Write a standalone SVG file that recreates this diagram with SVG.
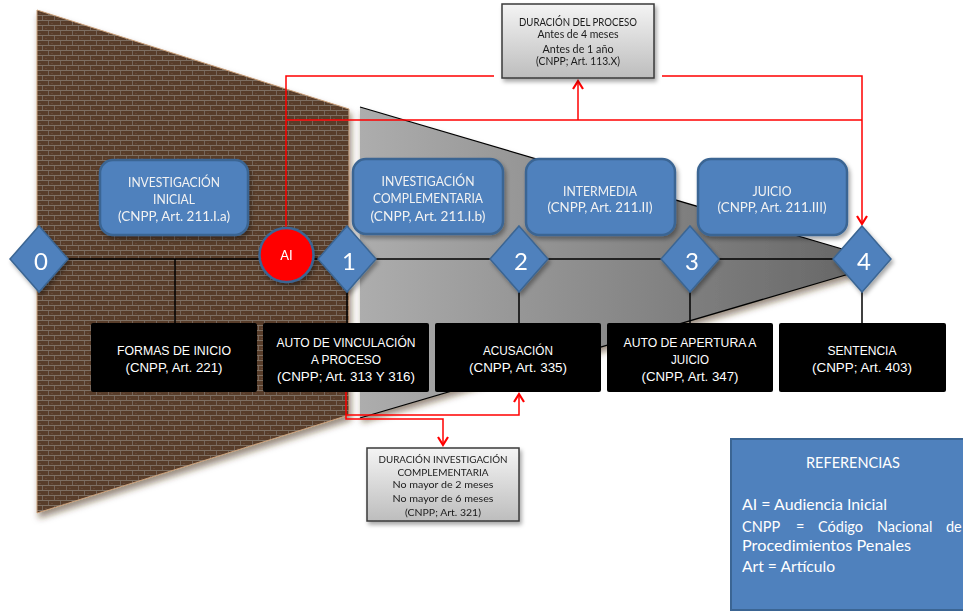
<svg xmlns="http://www.w3.org/2000/svg" width="963" height="611" viewBox="0 0 963 611">
<defs>
  <pattern id="brick" width="12" height="10" patternUnits="userSpaceOnUse">
    <rect width="12" height="10" fill="#583d2b"/>
    <rect x="0" y="0" width="12" height="1" fill="#7e6f64"/>
    <rect x="0" y="5" width="12" height="1" fill="#7e6f64"/>
    <rect x="0" y="1" width="1" height="4" fill="#75655a"/>
    <rect x="6" y="6" width="1" height="4" fill="#75655a"/>
    <rect x="3" y="3" width="2" height="1" fill="#664a37"/>
    <rect x="9" y="8" width="2" height="1" fill="#664a37"/>
  </pattern>
  <linearGradient id="greyGrad" x1="0" y1="0" x2="1" y2="0">
    <stop offset="0" stop-color="#adadad"/>
    <stop offset="1" stop-color="#686868"/>
  </linearGradient>
  <linearGradient id="noteGrad" x1="0" y1="0" x2="0" y2="1">
    <stop offset="0" stop-color="#f4f4f4"/>
    <stop offset="1" stop-color="#bdbdbd"/>
  </linearGradient>
  <filter id="shadow" x="-20%" y="-20%" width="150%" height="150%">
    <feDropShadow dx="2" dy="3" stdDeviation="2" flood-color="#000" flood-opacity="0.35"/>
  </filter>
  <filter id="shadowBrown" x="-10%" y="-10%" width="130%" height="130%">
    <feDropShadow dx="2" dy="5" stdDeviation="3" flood-color="#4a2e18" flood-opacity="0.55"/>
  </filter>
  <marker id="arrow" markerWidth="12" markerHeight="12" refX="9" refY="6" orient="auto" markerUnits="userSpaceOnUse">
    <path d="M1,1 L9,6 L1,11" fill="none" stroke="#ff0000" stroke-width="2.2"/>
  </marker>
  <style>
    .phase { fill:#4f81bd; stroke:#3b6593; stroke-width:2.5; }
    .phaseTxt { font-family:Lato, "Open Sans", sans-serif; font-size:13px; fill:#f2f2f2; text-anchor:middle; }
    .diamond { fill:#4f81bd; stroke:#3b6593; stroke-width:1.5; }
    .num { font-family:Lato, "Open Sans", sans-serif; font-size:24px; fill:#ffffff; text-anchor:middle; }
    .blk { fill:#000000; }
    .blkTxt { font-family:"Liberation Sans", Arial, sans-serif; font-size:13.5px; fill:#ffffff; text-anchor:middle; }
    .note { fill:url(#noteGrad); stroke:#3a3a3a; stroke-width:1.5; }
    .noteTxt { font-family:Lato, "Open Sans", sans-serif; fill:#1a1a1a; text-anchor:middle; }
    .tl { stroke:#000; stroke-width:1.5; fill:none; }
    .red { stroke:#ff0000; stroke-width:1.5; fill:none; }
    .refTxt { font-family:Lato, "Open Sans", sans-serif; font-size:14.5px; fill:#ffffff; }
  </style>
</defs>

<rect width="963" height="611" fill="#ffffff"/>

<!-- background shapes -->
<polygon id="brown-shape" points="37,10 349,109 349,415 37,513" fill="url(#brick)" stroke="#c9a07a" stroke-width="1" filter="url(#shadowBrown)"/>
<g id="grey-shape">
  <polygon points="360,107 849,251 849,274 360,418" fill="url(#greyGrad)" filter="url(#shadowBrown)"/>
  <line x1="360" y1="107" x2="849" y2="251" stroke="#000" stroke-width="1.3"/>
  <line x1="360" y1="418" x2="849" y2="274" stroke="#000" stroke-width="1.3"/>
</g>

<!-- connectors -->
<g id="connectors">
  <line class="tl" x1="60" y1="259" x2="840" y2="259"/>
  <line class="tl" x1="175" y1="259" x2="175" y2="323"/>
  <line class="tl" x1="347" y1="290" x2="347" y2="323"/>
  <line class="tl" x1="519" y1="290" x2="519" y2="323"/>
  <line class="tl" x1="690" y1="290" x2="690" y2="323"/>
  <line class="tl" x1="862" y1="290" x2="862" y2="323"/>
  <path class="red" d="M286,230 V76 H494"/>
  <path class="red" d="M662,76 H862 V224" marker-end="url(#arrow)"/>
  <path class="red" d="M286,120 H862"/>
  <path class="red" d="M578,120 V81" marker-end="url(#arrow)"/>
  <path class="red" d="M346,392 V419 H443 V445" marker-end="url(#arrow)"/>
  <path class="red" d="M346,415 H519 V394" marker-end="url(#arrow)"/>
</g>

<!-- phase boxes -->
<g id="phase-inicial" filter="url(#shadow)">
  <rect class="phase" x="100" y="160" width="148" height="75" rx="13"/>
  <text class="phaseTxt" x="174" y="187" textLength="92" lengthAdjust="spacingAndGlyphs">INVESTIGACIÓN</text>
  <text class="phaseTxt" x="174" y="204" textLength="42" lengthAdjust="spacingAndGlyphs">INICIAL</text>
  <text class="phaseTxt" x="174" y="221" textLength="112" lengthAdjust="spacingAndGlyphs">(CNPP, Art. 211.I.a)</text>
</g>
<g id="phase-complementaria" filter="url(#shadow)">
  <rect class="phase" x="353" y="159" width="150" height="75" rx="13"/>
  <text class="phaseTxt" x="428" y="186" textLength="93" lengthAdjust="spacingAndGlyphs">INVESTIGACIÓN</text>
  <text class="phaseTxt" x="428" y="203" textLength="110" lengthAdjust="spacingAndGlyphs">COMPLEMENTARIA</text>
  <text class="phaseTxt" x="428" y="221" textLength="115" lengthAdjust="spacingAndGlyphs">(CNPP, Art. 211.I.b)</text>
</g>
<g id="phase-intermedia" filter="url(#shadow)">
  <rect class="phase" x="526" y="159" width="149" height="76" rx="13"/>
  <text class="phaseTxt" x="600" y="196" textLength="74" lengthAdjust="spacingAndGlyphs">INTERMEDIA</text>
  <text class="phaseTxt" x="600" y="212" textLength="105" lengthAdjust="spacingAndGlyphs">(CNPP, Art. 211.II)</text>
</g>
<g id="phase-juicio" filter="url(#shadow)">
  <rect class="phase" x="698" y="159" width="149" height="76" rx="13"/>
  <text class="phaseTxt" x="772" y="196" textLength="39" lengthAdjust="spacingAndGlyphs">JUICIO</text>
  <text class="phaseTxt" x="772" y="212" textLength="109" lengthAdjust="spacingAndGlyphs">(CNPP, Art. 211.III)</text>
</g>

<!-- diamonds -->
<g id="d0" filter="url(#shadow)">
  <path class="diamond" d="M39,226 L68,259 L39,292 L10,259 Z"/>
  <text class="num" x="41" y="270">0</text>
</g>
<g id="ai" filter="url(#shadow)">
  <circle cx="286.5" cy="255" r="27" fill="#ff0000" stroke="#3b6593" stroke-width="2.5"/>
  <text x="286.5" y="260" font-family="Lato, 'Open Sans', sans-serif" font-size="13" fill="#ffffff" text-anchor="middle">AI</text>
</g>
<g id="d1" filter="url(#shadow)">
  <path class="diamond" d="M347,226 L376,259 L347,292 L318,259 Z"/>
  <text class="num" x="349" y="270">1</text>
</g>
<g id="d2" filter="url(#shadow)">
  <path class="diamond" d="M519,226 L548,259 L519,292 L490,259 Z"/>
  <text class="num" x="521" y="270">2</text>
</g>
<g id="d3" filter="url(#shadow)">
  <path class="diamond" d="M690,226 L719,259 L690,292 L661,259 Z"/>
  <text class="num" x="692" y="270">3</text>
</g>
<g id="d4" filter="url(#shadow)">
  <path class="diamond" d="M862,226 L891,259 L862,292 L833,259 Z"/>
  <text class="num" x="864" y="270">4</text>
</g>

<!-- black boxes -->
<g id="formas">
  <rect class="blk" x="91" y="323" width="166" height="69" rx="2"/>
  <text class="blkTxt" x="174" y="355" textLength="114" lengthAdjust="spacingAndGlyphs">FORMAS DE INICIO</text>
  <text class="blkTxt" x="174" y="372" textLength="97" lengthAdjust="spacingAndGlyphs">(CNPP, Art. 221)</text>
</g>
<g id="vinculacion">
  <rect class="blk" x="263" y="323" width="166" height="69" rx="2"/>
  <text class="blkTxt" x="346" y="347" textLength="139" lengthAdjust="spacingAndGlyphs">AUTO DE VINCULACIÓN</text>
  <text class="blkTxt" x="346" y="364" textLength="70" lengthAdjust="spacingAndGlyphs">A PROCESO</text>
  <text class="blkTxt" x="346" y="381" textLength="138" lengthAdjust="spacingAndGlyphs">(CNPP; Art. 313 Y 316)</text>
</g>
<g id="acusacion">
  <rect class="blk" x="435" y="323" width="166" height="69" rx="2"/>
  <text class="blkTxt" x="518" y="355" textLength="70" lengthAdjust="spacingAndGlyphs">ACUSACIÓN</text>
  <text class="blkTxt" x="518" y="372" textLength="98" lengthAdjust="spacingAndGlyphs">(CNPP, Art. 335)</text>
</g>
<g id="apertura">
  <rect class="blk" x="607" y="323" width="166" height="69" rx="2"/>
  <text class="blkTxt" x="690" y="347" textLength="133" lengthAdjust="spacingAndGlyphs">AUTO DE APERTURA A</text>
  <text class="blkTxt" x="690" y="364" textLength="38" lengthAdjust="spacingAndGlyphs">JUICIO</text>
  <text class="blkTxt" x="690" y="381" textLength="97" lengthAdjust="spacingAndGlyphs">(CNPP, Art. 347)</text>
</g>
<g id="sentencia">
  <rect class="blk" x="779" y="323" width="167" height="69" rx="2"/>
  <text class="blkTxt" x="862" y="355" textLength="69" lengthAdjust="spacingAndGlyphs">SENTENCIA</text>
  <text class="blkTxt" x="862" y="372" textLength="100" lengthAdjust="spacingAndGlyphs">(CNPP; Art. 403)</text>
</g>

<!-- notes -->
<g id="duracion-proceso" filter="url(#shadow)">
  <rect class="note" x="502" y="4" width="152" height="74"/>
  <text class="noteTxt" x="578" y="26" font-size="10.5" textLength="118" lengthAdjust="spacingAndGlyphs">DURACIÓN DEL PROCESO</text>
  <text class="noteTxt" x="578" y="38" font-size="10.5" textLength="81" lengthAdjust="spacingAndGlyphs">Antes de 4 meses</text>
  <text class="noteTxt" x="578" y="53" font-size="10.5" textLength="71" lengthAdjust="spacingAndGlyphs">Antes de 1 año</text>
  <text class="noteTxt" x="578" y="65" font-size="10.5" textLength="84" lengthAdjust="spacingAndGlyphs">(CNPP; Art. 113.X)</text>
</g>
<g id="duracion-complementaria" filter="url(#shadow)">
  <rect class="note" x="367" y="448" width="152" height="73"/>
  <text class="noteTxt" x="443" y="463" font-size="9.5" textLength="129" lengthAdjust="spacingAndGlyphs">DURACIÓN INVESTIGACIÓN</text>
  <text class="noteTxt" x="443" y="476" font-size="9.5" textLength="91" lengthAdjust="spacingAndGlyphs">COMPLEMENTARIA</text>
  <text class="noteTxt" x="443" y="488" font-size="9.5" textLength="101" lengthAdjust="spacingAndGlyphs">No mayor de 2 meses</text>
  <text class="noteTxt" x="443" y="502" font-size="9.5" textLength="101" lengthAdjust="spacingAndGlyphs">No mayor de 6 meses</text>
  <text class="noteTxt" x="443" y="516" font-size="9.5" textLength="76" lengthAdjust="spacingAndGlyphs">(CNPP; Art. 321)</text>
</g>

<!-- references -->
<g id="referencias">
  <rect x="731" y="439" width="250" height="171" fill="#4f81bd" stroke="#3b6593" stroke-width="2"/>
  <text class="refTxt" x="853" y="468" text-anchor="middle" textLength="94" lengthAdjust="spacingAndGlyphs">REFERENCIAS</text>
  <text class="refTxt" x="742" y="510" textLength="145" lengthAdjust="spacingAndGlyphs">AI = Audiencia Inicial</text>
  <text class="refTxt" y="532"><tspan x="742">CNPP</tspan><tspan x="796">=</tspan><tspan x="818">Código</tspan><tspan x="877">Nacional</tspan><tspan x="946">de</tspan></text>
  <text class="refTxt" x="742" y="551" textLength="169" lengthAdjust="spacingAndGlyphs">Procedimientos Penales</text>
  <text class="refTxt" x="742" y="572" textLength="93" lengthAdjust="spacingAndGlyphs">Art = Artículo</text>
</g>
</svg>
